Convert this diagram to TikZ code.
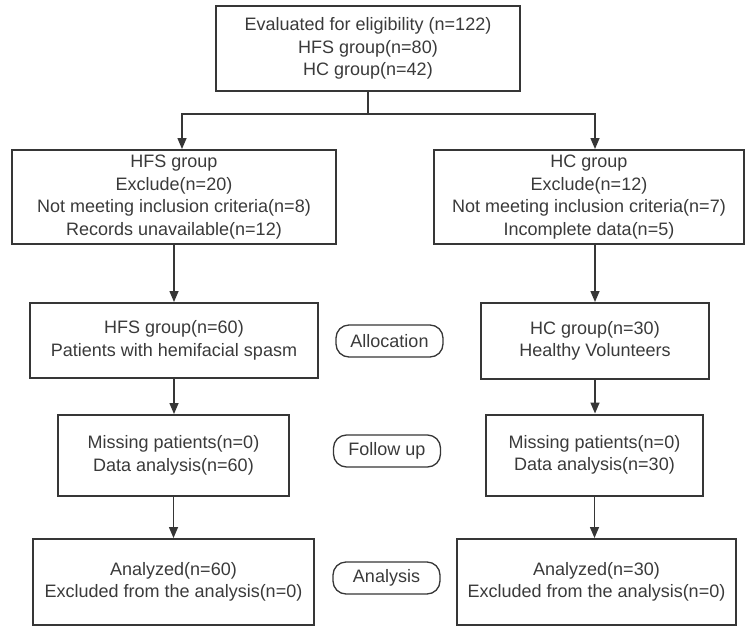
\documentclass[tikz,border=0pt]{standalone}
\usepackage{fontspec}
\setmainfont{Liberation Sans}
\usepackage{xcolor}
\usepackage{tikz}
\usetikzlibrary{arrows.meta}
\definecolor{ink}{HTML}{363636}
\definecolor{txt}{HTML}{3A3A3A}

\begin{document}
\begin{tikzpicture}[x=1pt,y=-1pt,
  box/.style={draw=ink,line width=2pt,align=center,inner sep=0pt,text=txt,
    font=\fontsize{18}{22.5}\selectfont},
  pill/.style={draw=ink,line width=1.3pt,rounded corners=13pt,inner sep=0pt,text=txt,
    minimum width=107,minimum height=32,font=\fontsize{18}{22.5}\selectfont},
  arr/.style={draw=ink,line width=1.5pt,-{Triangle[length=11pt,width=9pt]}}]
\useasboundingbox (0,0) rectangle (745,627);
\node (1) at (368,48.5) [box,minimum width=304,minimum height=85] {Evaluated for eligibility (n=122)\\HFS group(n=80)\\HC group(n=42)};
\node (2) at (174,197) [box,minimum width=324,minimum height=94] {HFS group\\Exclude(n=20)\\Not meeting inclusion criteria(n=8)\\Records unavailable(n=12)};
\node (3) at (589,197) [box,minimum width=310,minimum height=94] {HC group\\Exclude(n=12)\\Not meeting inclusion criteria(n=7)\\Incomplete data(n=5)};
\node (4) at (174,340.5) [box,minimum width=288,minimum height=75] {HFS group(n=60)\\Patients with hemifacial spasm};
\node (5) at (595,341) [box,minimum width=228,minimum height=76] {HC group(n=30)\\Healthy Volunteers};
\node (6) at (173.5,455.5) [box,minimum width=231,minimum height=81] {Missing patients(n=0)\\Data analysis(n=60)};
\node (7) at (594.5,455) [box,minimum width=217,minimum height=81] {Missing patients(n=0)\\Data analysis(n=30)};
\node (8) at (173.5,582) [box,minimum width=281,minimum height=86] {Analyzed(n=60)\\Excluded from the analysis(n=0)};
\node (9) at (596.5,582) [box,minimum width=279,minimum height=86] {Analyzed(n=30)\\Excluded from the analysis(n=0)};
\node (a) at (389.5,341) [pill] {Allocation};
\node (b) at (387,451) [pill] {Follow up};
\node (c) at (386.5,578) [pill] {Analysis};
\coordinate (s) at (368,114);
\coordinate (sl) at (182,114);
\coordinate (sr) at (595,114);
\draw [draw=ink,line width=1.5pt] (1.south) -- (s);
\draw [arr] (s) -- (sl) -- (sl |- 2.north);
\draw [arr] (s) -- (sr) -- (sr |- 3.north);
\draw [arr] (2.south) -- (4.north);
\draw [arr] (5.north |- 3.south) -- (5.north);
\draw [arr] (4.south) -- (6.north -| 4.south);
\draw [arr] (5.south) -- (7.north -| 5.south);
\draw [arr] (6.south) -- (8.north -| 6.south);
\draw [arr] (7.south) -- (9.north -| 7.south);
\end{tikzpicture}
\end{document}
